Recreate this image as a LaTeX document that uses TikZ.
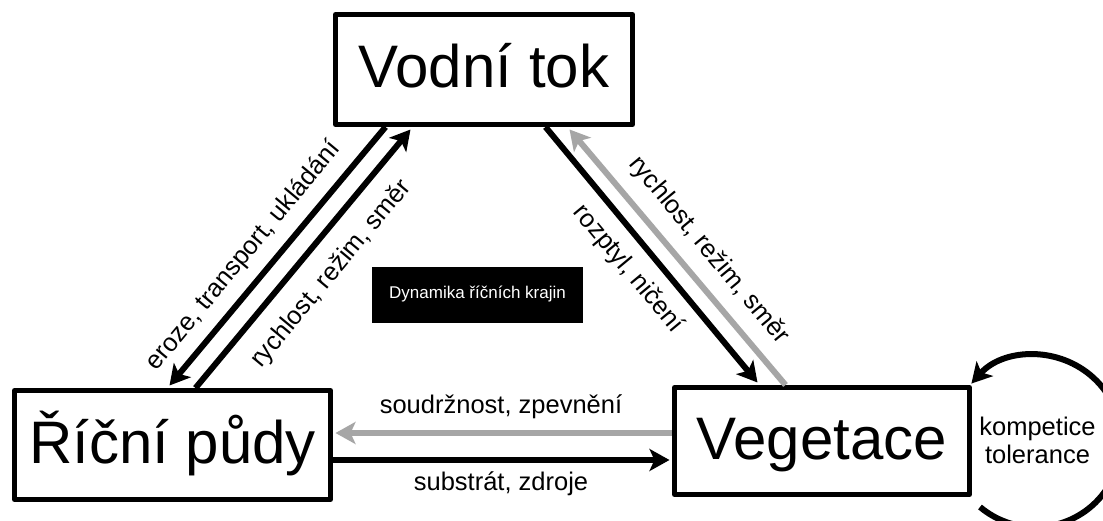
\documentclass[tikz,border=0pt]{standalone}
\usepackage{fontspec}
\setmainfont{Liberation Sans}
\usetikzlibrary{arrows.meta,calc}
\definecolor{arrowgray}{RGB}{166,166,166}
\tikzset{
  bigbox/.style={draw=black, line width=5pt, line join=round, inner sep=0pt,
    font=\fontsize{60}{72}\selectfont, text height=45pt, text depth=8pt},
  conn/.style={line width=6pt, -{Stealth[length=20pt,width=22pt,inset=5pt]}},
  blackconn/.style={conn, draw=black},
  grayconn/.style={conn, draw=arrowgray},
  lbl/.style={font=\fontsize{25.5}{30}\selectfont, inner sep=0pt},
  titlebox/.style={fill=black, text=white, inner sep=0pt, minimum width=211pt, minimum height=56pt,
    font=\fontsize{17}{20}\selectfont, text height=12pt, text depth=4pt}
}
\begin{document}
\begin{tikzpicture}[x=1pt,y=1pt]
\clip (0,0) rectangle (1103,520);
\fill[white] (0,0) rectangle (1103,520);

\node[bigbox, minimum width=297pt, minimum height=110pt] (vod) at (484,450.5) {Vodní tok};
\node[bigbox, minimum width=316pt, minimum height=109pt] (rp) at (172.5,75) {Říční půdy};
\node[bigbox, minimum width=295pt, minimum height=107pt] (veg) at (822,79) {Vegetace};
\node[titlebox] (title) at (477.5,225) {Dynamika říčních krajin};

% left pair
\draw[blackconn] ($(vod.south west)+(52.5,0)$) -- ($(rp.north west)+(157.5,2.5)$);
\draw[blackconn] ($(rp.north west)+(183.5,0)$) -- ($(vod.south west)+(77.5,-2.5)$);
% right pair
\draw[blackconn] ($(vod.south west)+(212.5,0)$) -- ($(veg.north west)+(85.5,2.5)$);
\draw[grayconn] ($(veg.north west)+(113.5,0)$) -- ($(vod.south west)+(236.5,-2.5)$);
% horizontal
\draw[grayconn] ($(veg.west)+(0,8)$) -- ($(rp.east)+(2.5,12)$);
\draw[blackconn] ($(rp.east)+(0,-15)$) -- ($(veg.west)+(-2.5,-19)$);
% self loop
\coordinate (ls) at (980,13);
\draw[blackconn] (ls) arc[start angle=-130, end angle=138, radius=86];

% labels
\node[lbl, rotate=50.3] (l1) at (244,264) {eroze, transport, ukládání};
\node[lbl, rotate=50.3] (l2) at (331.5,246) {rychlost, režim, směr};
\node[lbl, rotate=-50.3] (l3) at (708.5,269.5) {rychlost, režim, směr};
\node[lbl, rotate=-50.3] (l4) at (628,251) {rozptyl, ničení};
\node[lbl, anchor=base] (l5) at (501,107) {soudržnost, zpevnění};
\node[lbl, anchor=base] (l6) at (501,30) {substrát, zdroje};
\node[lbl, anchor=base] (l7) at (1037.5,85) {kompetice};
\node[lbl, anchor=base] (l8) at (1037.5,57) {tolerance};
\end{tikzpicture}
\end{document}
